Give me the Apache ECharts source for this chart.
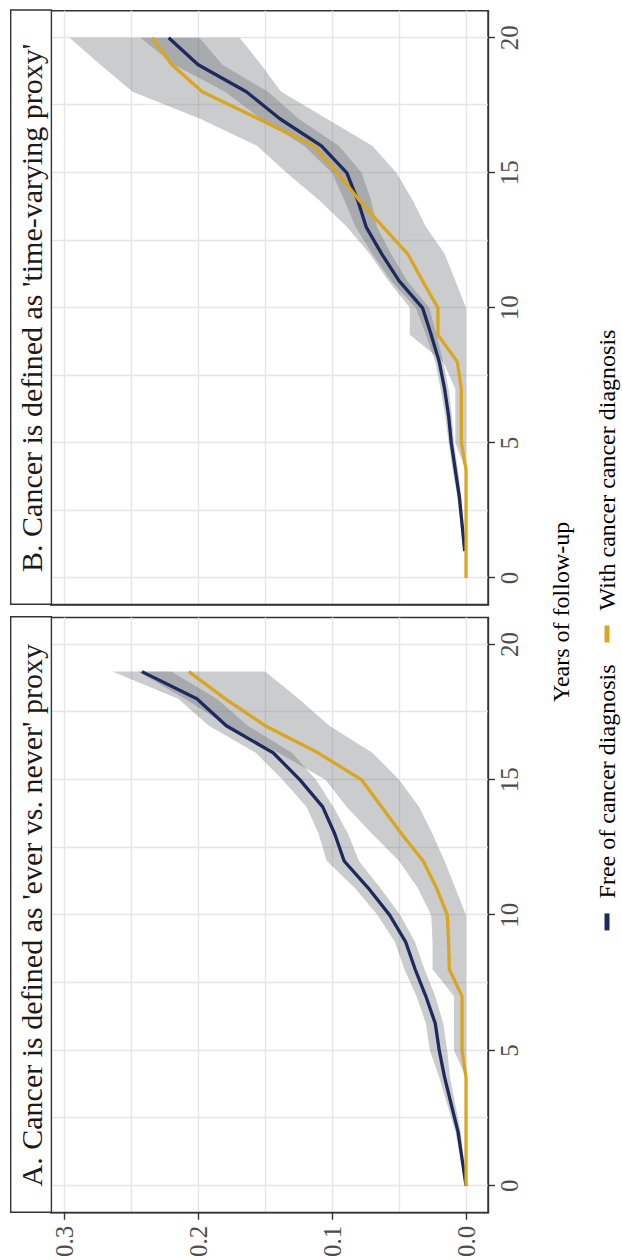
<!DOCTYPE html>
<html>
<head>
<meta charset="utf-8">
<script src="https://cdn.jsdelivr.net/npm/echarts@6/dist/echarts.min.js"></script>
<style>
  html, body { margin: 0; padding: 0; background: #ffffff; width: 622px; height: 1260px; overflow: hidden; }
  /* the figure is laid out landscape and turned a quarter turn counter-clockwise */
  #chart { position: absolute; left: 0; top: 0; width: 1260px; height: 622px;
           transform-origin: 0 0; transform: translateY(1260px) rotate(-90deg); }
</style>
</head>
<body>
<div id="chart"></div>
<script>
// ---- data: cumulative incidence by year of follow-up ----
const yearsA = [0,1,2,3,4,5,6,7,8,9,10,11,12,13,14,15,16,17,18,19];
const yearsB = [0,1,2,3,4,5,6,7,8,9,10,11,12,13,14,15,16,17,18,19,20];

// Panel A: 'ever vs. never' proxy
const freeA     = [0,0.003,0.006,0.011,0.016,0.020,0.023,0.030,0.038,0.045,0.057,0.073,0.091,0.098,0.107,0.124,0.144,0.179,0.201,0.242];
const freeALow  = [0,0.002,0.004,0.008,0.012,0.014,0.017,0.023,0.031,0.038,0.049,0.064,0.080,0.088,0.099,0.112,0.130,0.163,0.186,0.220];
const freeAHigh = [0,0.004,0.008,0.014,0.020,0.027,0.030,0.037,0.046,0.053,0.066,0.083,0.104,0.110,0.119,0.137,0.157,0.192,0.215,0.264];
const withA     = [0,0,0,0,0,0.003,0.003,0.003,0.0125,0.013,0.014,0.022,0.032,0.048,0.063,0.078,0.1105,0.150,0.180,0.207];
const withALow  = [0,0,0,0,0,0,0,0,0,0,0,0.008,0.016,0.025,0.035,0.050,0.070,0.102,0.125,0.150];
const withAHigh = [0,0,0,0,0,0.009,0.009,0.009,0.025,0.025,0.026,0.036,0.050,0.070,0.089,0.105,0.140,0.178,0.210,0.245];

// Panel B: time-varying proxy
const freeB     = [null,0.001,0.003,0.005,0.008,0.011,0.013,0.016,0.020,0.026,0.0325,0.050,0.063,0.0746,0.081,0.089,0.108,0.139,0.164,0.200,0.222];
const freeBLow  = [null,0,0.002,0.0035,0.006,0.009,0.0105,0.013,0.017,0.022,0.0275,0.044,0.056,0.0666,0.071,0.078,0.095,0.125,0.148,0.182,0.199];
const freeBHigh = [null,0.002,0.004,0.0065,0.010,0.013,0.0155,0.019,0.023,0.030,0.0375,0.056,0.070,0.0826,0.091,0.100,0.121,0.153,0.180,0.218,0.243];
const withB     = [0,0,0,0,0,0.0035,0.0035,0.0035,0.0065,0.021,0.021,0.0325,0.0436,0.062,0.080,0.096,0.114,0.155,0.197,0.2196,0.2345];
const withBLow  = [0,0,0,0,0,0,0,0,0,0,0,0.008,0.016,0.030,0.040,0.052,0.070,0.104,0.138,0.153,0.169];
const withBHigh = [0,0,0,0,0,0.008,0.008,0.008,0.017,0.042,0.042,0.058,0.072,0.089,0.110,0.134,0.156,0.1985,0.249,0.273,0.296];

// axis ticks and labels
const yearTicks = [0, 5, 10, 15, 20];
const yearGrid  = [0, 2.5, 5, 7.5, 10, 12.5, 15, 17.5, 20];
const riskTicks = [0, 0.1, 0.2, 0.3];
const riskGrid  = [0, 0.05, 0.1, 0.15, 0.2, 0.25, 0.3];

const stripTitles = ["A. Cancer is defined as 'ever vs. never' proxy",
                     "B. Cancer is defined as 'time-varying proxy'"];
const seriesNames = ['Free of cancer diagnosis', 'With cancer cancer diagnosis'];
const xTitle = 'Years of follow-up';

// ---- style ----
const FONT = 'Liberation Serif';
const DARK = '#333333';
const GRIDC = '#e6e6e6';
const NAVY = '#1e2a5e';
const GOLD = '#daa520';
const BAND = 'rgba(104,110,116,0.35)';

const panelBoxes = [ { left: 47,  width: 595.5 }, { left: 655, width: 594.3 } ];
const gridTop = 50.7, gridHeight = 437.3;
const xMin = -1, xMax = 21, yMin = -0.0164, yMax = 0.3101;

const chart = echarts.init(document.getElementById('chart'), null, { renderer: 'svg', width: 1260, height: 622 });

const grids = [], xAxes = [], yAxes = [], series = [], graphics = [];

function ribbon(xs, lo, hi, xi, yi) {
  const pts = [];
  xs.forEach((t, k) => { if (lo[k] != null) pts.push([t, lo[k], hi[k]]); });
  return {
    type: 'custom', xAxisIndex: xi, yAxisIndex: yi, silent: true, z: 1,
    data: pts, encode: { x: 0, y: [1, 2] },
    renderItem(params, api) {
      if (params.dataIndex !== 0) return null;
      const upper = pts.map(p => api.coord([p[0], p[2]]));
      const lower = pts.map(p => api.coord([p[0], p[1]])).reverse();
      return { type: 'polygon', shape: { points: upper.concat(lower) }, style: { fill: BAND } };
    }
  };
}

function curve(name, xs, ys, color, xi, yi) {
  return {
    type: 'line', name, xAxisIndex: xi, yAxisIndex: yi, z: 3, silent: true,
    showSymbol: false, symbol: 'none', connectNulls: false,
    data: xs.map((t, k) => [t, ys[k]]),
    lineStyle: { color, width: 3.3, cap: 'butt', join: 'round' },
    itemStyle: { color }
  };
}

const panelData = [
  { xs: yearsA, free: freeA, freeLo: freeALow, freeHi: freeAHigh, withc: withA, withLo: withALow, withHi: withAHigh, showY: true },
  { xs: yearsB, free: freeB, freeLo: freeBLow, freeHi: freeBHigh, withc: withB, withLo: withBLow, withHi: withBHigh, showY: false }
];

panelData.forEach((pd, i) => {
  const box = panelBoxes[i];
  grids.push({ left: box.left, top: gridTop, width: box.width, height: gridHeight,
               show: true, borderColor: DARK, borderWidth: 1.4, backgroundColor: '#ffffff' });

  // visible years axis
  xAxes.push({
    type: 'value', gridIndex: i, min: xMin, max: xMax, position: 'bottom',
    axisLine: { show: true, onZero: false, lineStyle: { color: DARK, width: 1.4 } },
    axisTick: { show: true, length: 7, lineStyle: { color: DARK, width: 1.4 }, customValues: yearTicks },
    axisLabel: { show: true, customValues: yearTicks, margin: 9, color: '#4d4d4d',
                 fontFamily: FONT, fontSize: 25 },
    splitLine: { show: false }
  });
  // years grid lines
  xAxes.push({
    type: 'value', gridIndex: i, min: xMin, max: xMax, position: 'top',
    axisLine: { show: false }, axisLabel: { show: false },
    axisTick: { show: false, customValues: yearGrid },
    splitLine: { show: true, lineStyle: { color: GRIDC, width: 1.4 } }
  });
  // visible risk axis
  yAxes.push({
    type: 'value', gridIndex: i, min: yMin, max: yMax, position: 'left',
    axisLine: { show: true, onZero: false, lineStyle: { color: DARK, width: 1.4 } },
    axisTick: { show: pd.showY, length: 7, lineStyle: { color: DARK, width: 1.4 }, customValues: riskTicks },
    axisLabel: { show: pd.showY, customValues: riskTicks, margin: 13, color: '#4d4d4d',
                 fontFamily: FONT, fontSize: 25, formatter: v => v.toFixed(1) },
    splitLine: { show: false }
  });
  // risk grid lines
  yAxes.push({
    type: 'value', gridIndex: i, min: yMin, max: yMax, position: 'right',
    axisLine: { show: false }, axisLabel: { show: false },
    axisTick: { show: false, customValues: riskGrid },
    splitLine: { show: true, lineStyle: { color: GRIDC, width: 1.4 } }
  });

  const xi = 2 * i, yi = 2 * i;
  series.push(ribbon(pd.xs, pd.freeLo, pd.freeHi, xi, yi));
  series.push(ribbon(pd.xs, pd.withLo, pd.withHi, xi, yi));
  series.push(curve(seriesNames[0], pd.xs, pd.free, NAVY, xi, yi));
  series.push(curve(seriesNames[1], pd.xs, pd.withc, GOLD, xi, yi));

  // facet strip
  graphics.push({
    type: 'rect', left: box.left, top: 10, z: 10,
    shape: { width: box.width, height: gridTop - 10 },
    style: { fill: '#ffffff', stroke: DARK, lineWidth: 1.4 }
  });
  graphics.push({
    type: 'text', x: box.left + box.width / 2, y: (gridTop + 10) / 2 + 1, z: 11,
    style: { text: stripTitles[i], fill: '#1a1a1a', font: '30px "' + FONT + '"',
             textAlign: 'center', textVerticalAlign: 'middle' }
  });
});

// x-axis title shared by both panels
graphics.push({
  type: 'text', x: (panelBoxes[0].left + panelBoxes[1].left + panelBoxes[1].width) / 2, y: 561, z: 11,
  style: { text: xTitle, fill: '#000000', font: '24px "' + FONT + '"',
           textAlign: 'center', textVerticalAlign: 'middle' }
});

chart.setOption({
  animation: false,
  backgroundColor: '#ffffff',
  grid: grids,
  xAxis: xAxes,
  yAxis: yAxes,
  series,
  graphic: graphics,
  legend: {
    show: true, orient: 'horizontal', left: 'center', top: 590,
    data: seriesNames, icon: 'rect', itemWidth: 17, itemHeight: 5, itemGap: 22,
    selectedMode: false,
    textStyle: { fontFamily: FONT, fontSize: 24, color: '#000000', padding: [0, 0, 0, 10] }
  }
});
</script>
</body>
</html>
